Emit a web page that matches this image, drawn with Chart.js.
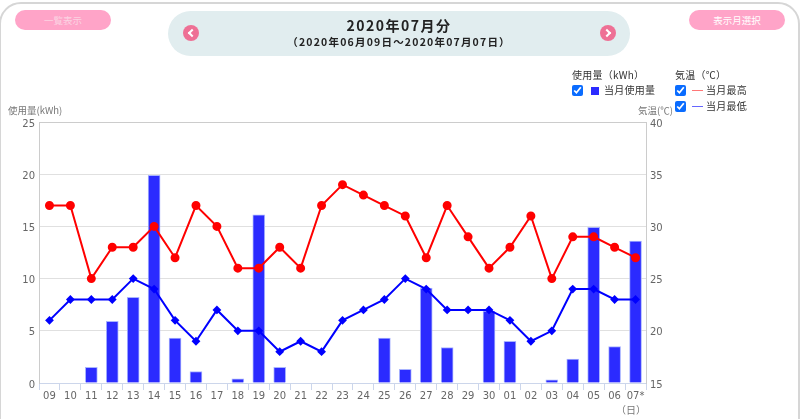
<!DOCTYPE html>
<html lang="ja">
<head>
<meta charset="utf-8">
<title>2020年07月分</title>
<script src="https://cdn.jsdelivr.net/npm/chart.js@4"></script>
<style>
  html, body { margin: 0; padding: 0; background: #fff; }
  body { width: 800px; height: 419px; overflow: hidden; position: relative; font-family: "Noto Sans CJK JP", sans-serif; color: #333; }
  #frame { position: absolute; left: -1px; top: 2px; width: 801px; height: 500px; border: 2px solid #d6d6d6; border-radius: 22px; box-sizing: border-box; }
  #chart { position: absolute; left: 0; top: 0; }
  .abs { position: absolute; white-space: nowrap; line-height: 1; }
  .pill { position: absolute; top: 10px; width: 96px; height: 20px; line-height: 20px; border-radius: 10px; background: #ffa4c8; color: #fff; text-align: center; font-size: 9.5px; }
  #head { position: absolute; left: 168px; top: 11px; width: 462px; height: 45px; border-radius: 23px; background: #e1edef; }
  .arrow { position: absolute; top: 14px; width: 16px; height: 16px; border-radius: 50%; background: #ee7095; }
  .arrow::after { content: ""; position: absolute; top: 5px; border-top: 2px solid #fff; border-right: 2px solid #fff; box-sizing: border-box; width: 6px; height: 6px; }
  .arrow.prev::after { left: 6px; transform: rotate(-135deg); }
  .arrow.next::after { left: 4px; transform: rotate(45deg); }
  #title { left: 0; width: 462px; top: 7px; text-align: center; font-size: 14px; font-weight: 700; letter-spacing: 1.5px; color: #222; }
  #sub { left: 0; width: 462px; top: 26px; text-align: center; font-size: 10.5px; font-weight: 700; letter-spacing: 1.2px; color: #222; }
  .leg { font-size: 10px; color: #333; letter-spacing: 0.25px; }
  .axis { font-size: 9.5px; color: #777; }
  input { position: absolute; margin: 0; width: 11px; height: 11px; accent-color: #0a6cff; }
  .sw { position: absolute; }
</style>
</head>
<body>
<div id="frame"></div>
<canvas id="chart" width="800" height="419"></canvas>

<div class="pill" style="left:15px;color:#fbd3e2">一覧表示</div>
<div class="pill" style="left:689px">表示月選択</div>
<div id="head">
  <div class="arrow prev" style="left:15px"></div>
  <div class="abs" id="title">2020年07月分</div>
  <div class="abs" id="sub">（2020年06月09日～2020年07月07日）</div>
  <div class="arrow next" style="left:432px"></div>
</div>

<div class="abs leg" style="left:572px;top:70px">使用量（kWh）</div>
<input type="checkbox" checked data-set="0" style="left:572px;top:85px">
<div class="sw" style="left:591px;top:87px;width:8px;height:8px;background:#2b2bff"></div>
<div class="abs leg" style="left:604px;top:85px">当月使用量</div>

<div class="abs leg" style="left:675px;top:70px">気温（℃）</div>
<input type="checkbox" checked data-set="1" style="left:675px;top:85px">
<div class="sw" style="left:692px;top:90px;width:11px;height:1px;background:#f77"></div>
<div class="abs leg" style="left:706px;top:85px">当月最高</div>
<input type="checkbox" checked data-set="2" style="left:675px;top:101px">
<div class="sw" style="left:692px;top:106px;width:11px;height:1px;background:#66f"></div>
<div class="abs leg" style="left:706px;top:101px">当月最低</div>

<div class="abs axis" style="left:8px;top:106px">使用量(kWh)</div>
<div class="abs axis" style="left:638px;top:106px">気温(℃)</div>
<div class="abs axis" style="left:616px;top:405px;font-size:10px">（日）</div>

<script>
const days = ['09','10','11','12','13','14','15','16','17','18','19','20','21','22','23','24','25','26','27','28','29','30','01','02','03','04','05','06','07*'];
const usage = [0,0,1.5,5.9,8.2,19.9,4.3,1.1,0,0.4,16.1,1.5,0,0,0,0,4.3,1.3,9.1,3.4,0,6.9,4.0,0,0.3,2.3,14.9,3.5,13.6];
const tempHigh = [32,32,25,28,28,30,27,32,30,26,26,28,26,32,34,33,32,31,27,32,29,26,28,31,25,29,29,28,27];
const tempLow = [21,23,23,23,25,24,21,19,22,20,20,18,19,18,21,22,23,25,24,22,22,22,21,19,20,24,24,23,23];

const tickFont = { family: '"DejaVu Sans", sans-serif', size: 10 };

const chart = new Chart(document.getElementById('chart').getContext('2d'), {
  data: {
    labels: days,
    datasets: [
      {
        type: 'bar',
        label: '当月使用量',
        data: usage,
        yAxisID: 'y',
        order: 3,
        barThickness: 12,
        backgroundColor: '#2b2bff',
        borderColor: '#a9b4ff',
        borderWidth: 1
      },
      {
        type: 'line',
        label: '当月最高',
        data: tempHigh,
        yAxisID: 'y1',
        order: 2,
        borderColor: '#ff0000',
        backgroundColor: '#ff0000',
        borderWidth: 2,
        pointStyle: 'circle',
        pointRadius: 3.5,
        tension: 0
      },
      {
        type: 'line',
        label: '当月最低',
        data: tempLow,
        yAxisID: 'y1',
        order: 1,
        borderColor: '#0000ff',
        backgroundColor: '#0000ff',
        borderWidth: 2,
        pointStyle: 'rectRot',
        pointRadius: 3,
        tension: 0
      }
    ]
  },
  options: {
    responsive: false,
    animation: false,
    layout: { padding: { top: 122, right: 0, bottom: 0, left: 0 } },
    plugins: { legend: { display: false }, title: { display: false }, tooltip: { enabled: false } },
    scales: {
      x: {
        afterFit: (scale) => { scale.height = 36; },
        border: { color: '#ccd6eb' },
        grid: { drawOnChartArea: false, color: '#ccd6eb', tickLength: 7 },
        ticks: { color: '#666', font: tickFont, maxRotation: 0, autoSkip: false, padding: 0 }
      },
      y: {
        position: 'left',
        min: 0,
        max: 25,
        afterFit: (scale) => { scale.width = 39; },
        border: { color: '#ccc' },
        grid: { drawTicks: false, color: (c) => (c.tick.value === 25 ? '#ccc' : '#e0e0e0') },
        ticks: { stepSize: 5, color: '#666', font: tickFont, padding: 4, labelOffset: 2 }
      },
      y1: {
        position: 'right',
        min: 15,
        max: 40,
        afterFit: (scale) => { scale.width = 154; },
        border: { color: '#ccc' },
        grid: { drawOnChartArea: false, drawTicks: false },
        ticks: { stepSize: 5, color: '#666', font: tickFont, padding: 4, labelOffset: 2 }
      }
    }
  }
});

// legend checkboxes switch the matching series on and off
document.querySelectorAll('input[data-set]').forEach((box) => {
  box.addEventListener('change', () => {
    chart.setDatasetVisibility(Number(box.dataset.set), box.checked);
    chart.update();
  });
});
</script>
</body>
</html>
